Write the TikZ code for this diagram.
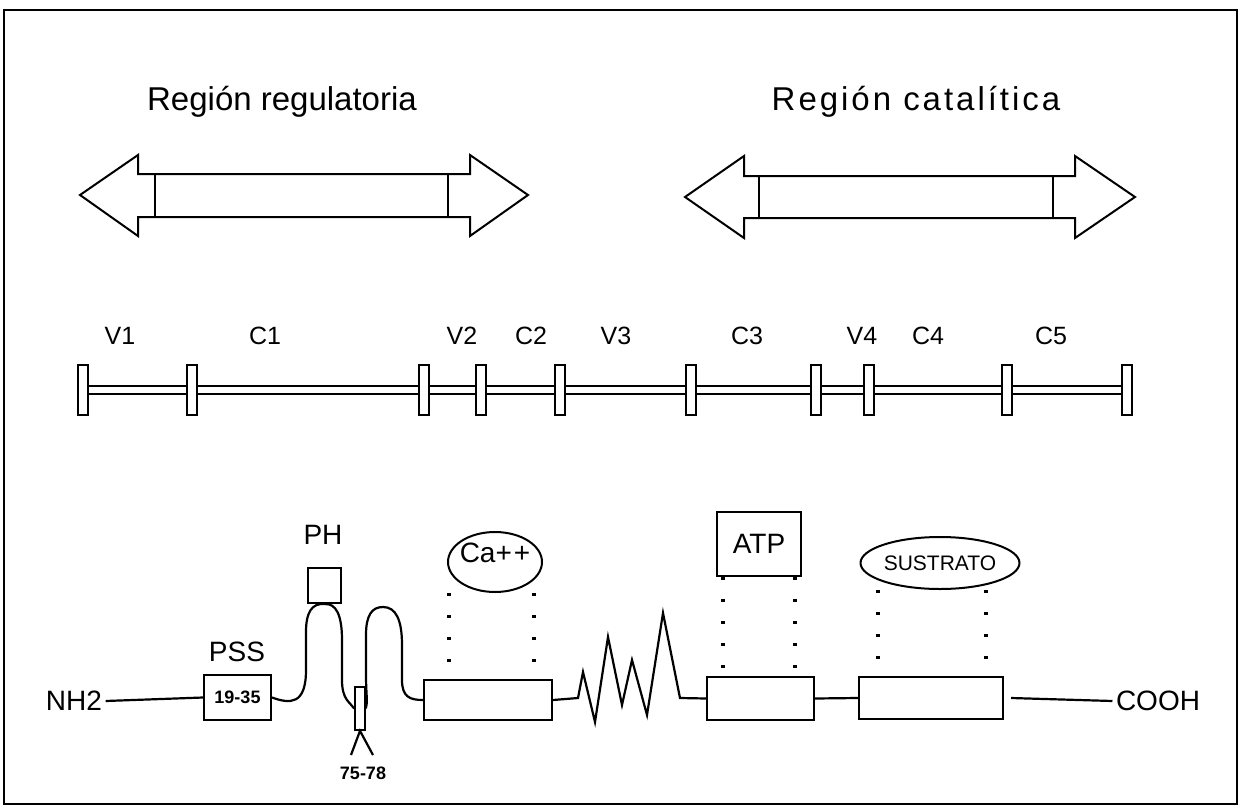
\documentclass[tikz,border=0pt]{standalone}
\usepackage{fontspec}
\setmainfont{Liberation Sans}
\usetikzlibrary{shapes.geometric}

\tikzset{
  titletext/.style={font=\fontsize{33}{38}\selectfont},
  lbl/.style={font=\fontsize{25}{28}\selectfont},
  endlbl/.style={font=\fontsize{28}{31}\selectfont},
  numtext/.style={font=\bfseries\fontsize{18}{20}\selectfont},
  outline/.style={line width=2pt, line join=miter},
  seppost/.style={draw, fill=white, line width=1.7pt, minimum width=10pt, minimum height=50pt, inner sep=0pt},
  rail/.style={double, double distance=6pt, line width=1.9pt},
  modbox/.style={draw, line width=2.1pt, inner sep=0pt},
  strand/.style={line width=2.2pt},
  dotline/.style={line width=3.2pt, dash pattern=on 3pt off 19pt},
}

\begin{document}
\begin{tikzpicture}[x=1pt,y=-1pt]
  \useasboundingbox (0,0) rectangle (1240,809);
  \draw[line width=2pt] (4,10) rectangle (1237,804);

  % regiones
  \node[titletext, anchor=base] (regreg) at (282,110) {Región regulatoria};
  \node[titletext, anchor=base] (regcat) at (916,110) {\addfontfeatures{LetterSpace=9}Región catalítica};

  \draw[outline] (80,195) -- (138,155) -- (138,174) -- (470,174) -- (470,155) -- (528,195)
    -- (470,236) -- (470,217) -- (138,217) -- (138,236) -- cycle;
  \draw[line width=1.7pt] (155,174) -- (155,217) (448,174) -- (448,217);

  \draw[outline] (685,197) -- (744,156) -- (744,176) -- (1075,176) -- (1075,156) -- (1135,197)
    -- (1075,238) -- (1075,218) -- (744,218) -- (744,238) -- cycle;
  \draw[line width=1.7pt] (759,176) -- (759,218) (1053,176) -- (1053,218);

  % dominios V y C
  \foreach \t/\x in {V1/120, C1/265, V2/462, C2/531, V3/616, C3/747, V4/862, C4/928, C5/1051}
    \node[lbl, anchor=base] (\t) at (\x,344) {\t};
  \foreach \x [count=\i] in {83,192,424,481,560,691,816,869,1007,1127}
    \node[seppost] (p\i) at (\x,390) {};
  \foreach \i [evaluate=\i as \j using int(\i+1)] in {1,...,9}
    \draw[rail] (p\i.east) -- (p\j.west);

  % cadena
  \node[endlbl] (nh2) at (74,701) {NH2};
  \node[modbox, minimum width=67pt, minimum height=45pt] (pss) at (237.5,697.5) {\textbf{\fontsize{18}{20}\selectfont 19-35}};
  \node[endlbl] (psslbl) at (237,652) {PSS};
  \node[modbox, minimum width=33pt, minimum height=35pt] (ph) at (324.5,585.5) {};
  \node[endlbl] (phlbl) at (323,535) {PH};
  \node[modbox, line width=1.7pt, minimum width=10pt, minimum height=43pt] (tag) at (360,708.5) {};
  \coordinate (yl) at (351,755);
  \coordinate (yr) at (373,755);
  \node[numtext] (tagnum) at (363,773) {75-78};

  \node[modbox, minimum width=128pt, minimum height=40pt] (cabox) at (488,700) {};
  \node[draw, ellipse, line width=2pt, minimum width=94pt, minimum height=60pt,
    label={[endlbl, yshift=9pt]center:Ca+\kern2pt+}] (caell) at (495,562) {};

  \node[modbox, minimum width=107pt, minimum height=43pt] (atpbox) at (760.5,698.5) {};
  \node[modbox, minimum width=84pt, minimum height=64pt, endlbl] (atp) at (759,544) {ATP};

  \node[modbox, minimum width=144pt, minimum height=42pt] (subbox) at (931,698) {};
  \node[draw, ellipse, line width=2pt, minimum width=150pt, minimum height=52pt, inner sep=0pt,
    font=\fontsize{21}{23}\selectfont] (subell) at (940,563) {SUSTRATO};

  \node[endlbl] (cooh) at (1158,701) {COOH};

  \draw[strand] (nh2.east) -- (pss.west);
  \draw[strand] (pss.east) .. controls (290,704) and (306,705) .. (306,670) -- (306,632)
    .. controls (306,612) and (312,603) .. (ph.south)
    .. controls (336,603) and (342,615) .. (342,640) -- (342,680)
    .. controls (342,700) and (350,702) .. (tag.west);
  \draw[strand] (tag.east) .. controls (368,702) and (366,695) .. (366,675) -- (366,635)
    .. controls (366,615) and (372,607) .. (383,607)
    .. controls (396,607) and (402,620) .. (402,645) -- (402,680)
    .. controls (402,697) and (410,700) .. (cabox.west);
  \draw[strand] (yl) -- (tag.south) -- (yr);
  \draw[strand, line join=miter] (cabox.east) -- (578,698) -- (583,672) -- (595,722) -- (608,637)
    -- (622,705) -- (632,660) -- (647,715) -- (663,613) -- (680,698) -- (atpbox.west);
  \draw[strand] (atpbox.east) -- (subbox.west);
  \draw[strand] (subbox.east) ++(7,0) -- (cooh.west);

  % uniones
  \draw[dotline] ([xshift=-46pt]caell.south) -- ([xshift=-46pt]caell.south |- cabox.north);
  \draw[dotline] ([xshift=39pt]caell.south) -- ([xshift=39pt]caell.south |- cabox.north);
  \draw[dotline] ([xshift=-36pt]atp.south) -- ([xshift=-36pt]atp.south |- atpbox.north);
  \draw[dotline] ([xshift=36pt]atp.south) -- ([xshift=36pt]atp.south |- atpbox.north);
  \draw[dotline] ([xshift=-62pt]subell.south) -- ([xshift=-62pt]subell.south |- subbox.north);
  \draw[dotline] ([xshift=46pt]subell.south) -- ([xshift=46pt]subell.south |- subbox.north);
\end{tikzpicture}
\end{document}
